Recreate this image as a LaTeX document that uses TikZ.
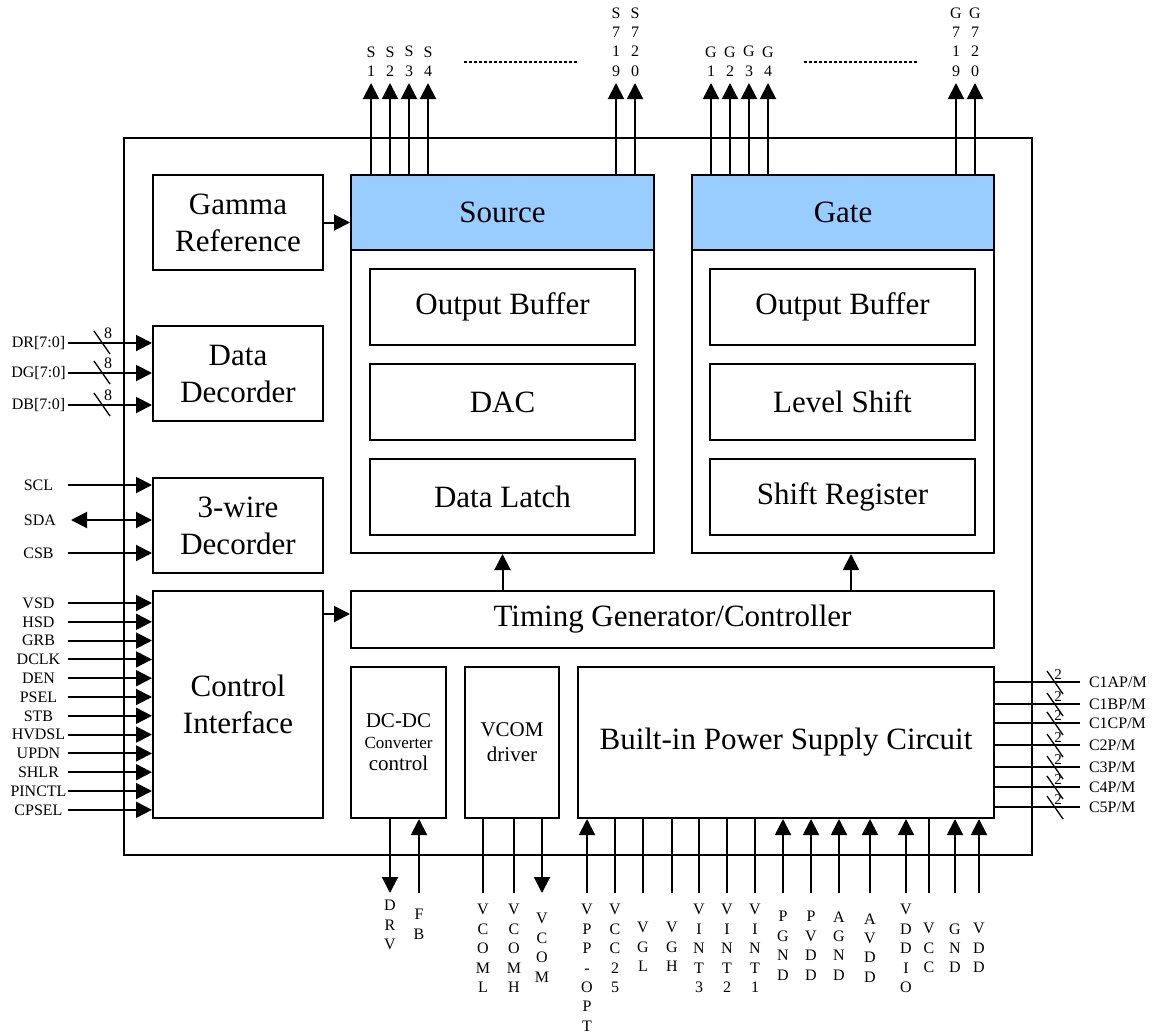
\documentclass[tikz,border=0pt]{standalone}
\usepackage{fontspec}
\setmainfont{Liberation Serif}
\usetikzlibrary{positioning, arrows.meta}
\definecolor{hdrblue}{HTML}{99CCFF}

\begin{document}
\begin{tikzpicture}[x=1pt,y=-1pt,>={Triangle[width=16pt,length=16pt]},line width=2pt,
  blk/.style={draw,inner sep=0pt,align=center,font=\fontsize{31}{37}\selectfont},
  hdr/.style={blk,fill=hdrblue},
  small/.style={blk,font=\fontsize{21}{25}\selectfont},
  pin/.style={inner sep=0pt,align=center,font=\fontsize{16}{19.4}\selectfont},
  bus/.style={line width=1.3pt},
  po/.style={->},pi/.style={<-},pn/.style={-}]
  \useasboundingbox (0,0) rectangle (1154,1036);

  \node[blk, minimum width=908pt, minimum height=717pt] (chip) at (578,496.5) {};
  \node[blk, minimum width=170pt, minimum height=95pt] (gamma) at (238,222.5) {Gamma\\Reference};
  \node[blk, minimum width=170pt, minimum height=95pt] (dec) at (238,373.5) {Data\\Decorder};
  \node[blk, minimum width=170pt, minimum height=95pt] (wire) at (238,525.5) {3-wire\\Decorder};
  \node[blk, minimum width=170pt, minimum height=227pt] (ctrl) at (238,704.5) {Control\\Interface};

  \node[blk, minimum width=303pt, minimum height=378pt] (src) at (502.5,364) {};
  \node[hdr, minimum width=303pt, minimum height=75pt] (srchdr) at (502.5,212.5) {Source};
  \foreach \y/\t [count=\i] in {307/Output Buffer, 402/DAC, 497/Data Latch}
    \node[blk, minimum width=265pt, minimum height=76pt] (src\i) at (502.5,\y) {\t};

  \node[blk, minimum width=302pt, minimum height=378pt] (gate) at (843,364) {};
  \node[hdr, minimum width=302pt, minimum height=75pt] (gatehdr) at (843,212.5) {Gate};
  \foreach \y/\t [count=\i] in {307/Output Buffer, 402/Level Shift, 497/Shift Register}
    \node[blk, minimum width=265pt, minimum height=76pt] (gate\i) at (842.5,\y) {\t};

  \node[blk, minimum width=643pt, minimum height=57pt] (timing) at (672.5,619.5) {Timing Generator/Controller};
  \node[small, minimum width=95pt, minimum height=151pt] (dcdc) at (398.5,742.5)
    {DC-DC\\[-4pt]{\fontsize{17}{20}\selectfont Converter}\\[-3pt]control};
  \node[small, minimum width=94pt, minimum height=151pt] (vcom) at (512,742.5) {VCOM\\driver};
  \node[blk, minimum width=416pt, minimum height=151pt] (power) at (786,742.5) {Built-in Power Supply Circuit};

  \draw[->] (gamma.east) -- (gamma.east -| src.west);
  \coordinate (c2t) at (323,614);
  \draw[->] (c2t) -- (c2t -| timing.west);
  \draw[->] (timing.north -| src.south) -- (src.south);
  \coordinate (t2g) at (851,591);
  \draw[->] (t2g) -- (t2g |- gate.south);

  % source and gate outputs
  \foreach \x/\t [count=\i] in {371/{S\\1}, 390/{S\\2}, 409/{S\\3}, 428/{S\\4}, 616/{S\\7\\1\\9}, 635/{S\\7\\2\\0}} {
    \node[pin, anchor=south] (s\i) at (\x,77.5) {\t};
    \coordinate (st\i) at (\x,83);
    \draw[->] (st\i |- srchdr.north) -- (st\i);
  }
  \foreach \x/\t [count=\i] in {711/{G\\1}, 730/{G\\2}, 749/{G\\3}, 768/{G\\4}, 956/{G\\7\\1\\9}, 975/{G\\7\\2\\0}} {
    \node[pin, anchor=south] (g\i) at (\x,77.5) {\t};
    \coordinate (gt\i) at (\x,83);
    \draw[->] (gt\i |- gatehdr.north) -- (gt\i);
  }
  \draw[line width=1.2pt, dash pattern=on 3pt off 2pt] (464,62) -- (578,62);
  \draw[line width=1.2pt, dash pattern=on 3pt off 2pt] (804,62) -- (918,62);

  % left inputs
  \foreach \y/\t [count=\i] in {343/DR[7:0], 373/DG[7:0], 405/DB[7:0]} {
    \node[pin] (dl\i) at (38.5,\y) {\t};
    \coordinate (d\i) at (68,\y);
    \draw[->] (d\i) -- (d\i -| dec.west);
    \draw[bus] (d\i) ++(26,-12) -- ++(16,23);
    \path (d\i) ++(40,-10) node[pin] (dw\i) {8};
  }
  \foreach \y/\t [count=\i] in {485/SCL, 553/CSB} {
    \node[pin] (wl\i) at (38.5,\y) {\t};
    \coordinate (w\i) at (68,\y);
    \draw[->] (w\i) -- (w\i -| wire.west);
  }
  \node[pin] (sda) at (40,520) {SDA};
  \coordinate (sdat) at (71,520);
  \draw[<->] (sdat) -- (sdat -| wire.west);
  \foreach \t [count=\i] in {VSD,HSD,GRB,DCLK,DEN,PSEL,STB,HVDSL,UPDN,SHLR,PINCTL,CPSEL} {
    \pgfmathsetmacro\y{603+18.8*(\i-1)}
    \node[pin] (cl\i) at (38.5,\y) {\t};
    \coordinate (c\i) at (68,\y);
    \draw[->] (c\i) -- (c\i -| ctrl.west);
  }

  % charge pump pins
  \foreach \y/\t [count=\i] in {682/{C1AP/M}, 704/{C1BP/M}, 723/{C1CP/M}, 745/{C2P/M}, 767/{C3P/M}, 787/{C4P/M}, 807/{C5P/M}} {
    \coordinate (r\i) at (1080,\y);
    \draw (r\i -| power.east) -- (r\i);
    \draw[bus] (r\i) ++(-33,-11) -- ++(16,23);
    \path (r\i) ++(-22,-7) node[pin, font=\fontsize{15}{18}\selectfont] (rw\i) {2};
    \node[pin, anchor=west] (rl\i) at (1088,\y) {\t};
  }

  % bottom pins
  \foreach \x/\yt/\d/\b/\lab [count=\i] in {
      390/899.5/po/dcdc/{D\\R\\V}, 419/908.5/pi/dcdc/{F\\B},
      483/903.5/pn/vcom/{V\\C\\O\\M\\L}, 514/903.5/pn/vcom/{V\\C\\O\\M\\H}, 542/912.5/po/vcom/{V\\C\\O\\M},
      587/903.5/pi/power/{V\\P\\P\\-\\O\\P\\T}, 615/903.5/pn/power/{V\\C\\C\\2\\5},
      643/921.5/pn/power/{V\\G\\L}, 672/921.5/pn/power/{V\\G\\H},
      699/903.5/pn/power/{V\\I\\N\\T\\3}, 727/903.5/pn/power/{V\\I\\N\\T\\2}, 755/903.5/pn/power/{V\\I\\N\\T\\1},
      783/910.5/pi/power/{P\\G\\N\\D}, 811/910.5/pi/power/{P\\V\\D\\D}, 839/910.5/pi/power/{A\\G\\N\\D},
      870/912.5/pi/power/{A\\V\\D\\D}, 906/903.5/pi/power/{V\\D\\D\\I\\O}, 929/922.5/pn/power/{V\\C\\C},
      955/922.5/pi/power/{G\\N\\D}, 979/922.5/pi/power/{V\\D\\D}} {
    \coordinate (b\i) at (\x,893);
    \draw[\d] (b\i |- \b.south) -- (b\i);
    \node[pin, anchor=north] (bl\i) at (\x,\yt) {\lab};
  }
\end{tikzpicture}
\end{document}
